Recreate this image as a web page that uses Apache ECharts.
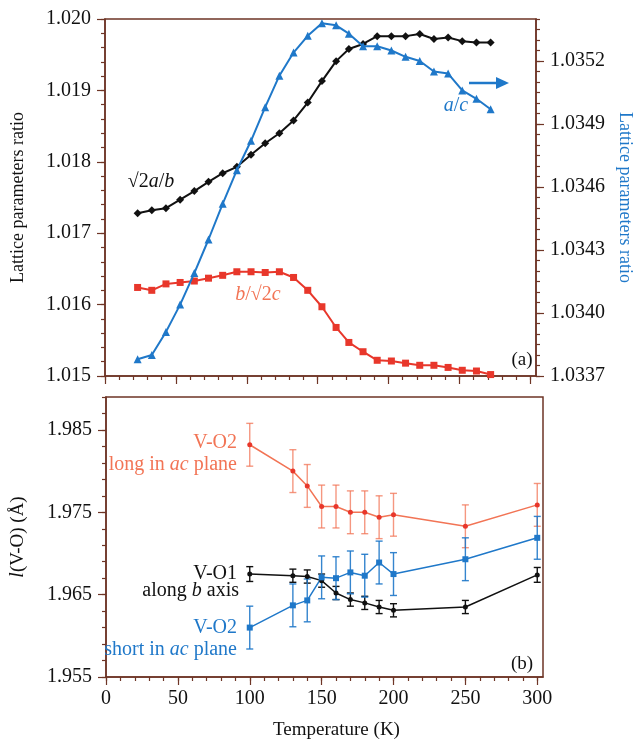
<!DOCTYPE html>
<html>
<head>
<meta charset="utf-8">
<script src="https://cdn.jsdelivr.net/npm/echarts@6/dist/echarts.min.js"></script>
<style>
  html, body { margin: 0; padding: 0; background: #fff; }
  #chart { width: 642px; height: 744px; }
</style>
</head>
<body>
<div id="chart"></div>
<script>
// panel (a): temperature of each lattice point
const tempA = [23, 33, 43, 53, 63, 73, 83, 93, 103, 113, 123, 133, 143, 153, 163, 172,
    182, 192, 202, 212, 222, 232, 242, 252, 262, 272];
// √2a/b, left axis
const ratioAB = [1.01728, 1.01732, 1.01735, 1.01747, 1.01759, 1.01772, 1.01784, 1.01793,
    1.01810, 1.01826, 1.01840, 1.01858, 1.01883, 1.01913, 1.01941, 1.01958,
    1.01965, 1.01976, 1.01976, 1.01976, 1.01979, 1.01972, 1.01974, 1.01969, 1.01967, 1.01967];
// b/√2c, left axis
const ratioBC = [1.01624, 1.01620, 1.01629, 1.01631, 1.01633, 1.01637, 1.01641, 1.01646,
    1.01646, 1.01645, 1.01646, 1.01638, 1.01620, 1.01597, 1.01568, 1.01547,
    1.01534, 1.01522, 1.01521, 1.01518, 1.01515, 1.01515, 1.01512, 1.01508, 1.01507, 1.01502];
// a/c, right axis
const ratioAC = [1.03378, 1.03380, 1.03391, 1.03404, 1.03419, 1.03435, 1.03452, 1.03468,
    1.03482, 1.03498, 1.03513, 1.03524, 1.03532, 1.03538, 1.03537, 1.03533,
    1.03527, 1.03527, 1.03525, 1.03522, 1.03520, 1.03515, 1.03514, 1.03506, 1.03502, 1.03497];

// panel (b): V-O bond lengths
const tempB = [100, 130, 140, 150, 160, 170, 180, 190, 200, 250, 300];
const vo2Long = [1.9832, 1.9800, 1.9782, 1.9757, 1.9757, 1.9750, 1.9750, 1.9744, 1.9747, 1.9733, 1.9759];
const vo2LongErr = [0.0026, 0.0026, 0.0026, 0.0026, 0.0026, 0.0026, 0.0026, 0.0026, 0.0026, 0.0026, 0.0026];
const vo1 = [1.9675, 1.9673, 1.9672, 1.9667, 1.9652, 1.9644, 1.9640, 1.9635, 1.9631, 1.9635, 1.9674];
const vo1Err = [0.0009, 0.0008, 0.0008, 0.0008, 0.0008, 0.0008, 0.0008, 0.0008, 0.0008, 0.0008, 0.0009];
const vo2Short = [1.9610, 1.9637, 1.9643, 1.9671, 1.9670, 1.9677, 1.9673, 1.9689, 1.9675, 1.9693, 1.9719];
const vo2ShortErr = [0.0026, 0.0026, 0.0026, 0.0026, 0.0026, 0.0026, 0.0026, 0.0026, 0.0026, 0.0026, 0.0026];

// tick labels
const xTicks = [0, 50, 100, 150, 200, 250, 300];
const leftTicks = [1.015, 1.016, 1.017, 1.018, 1.019, 1.020];
const rightTicks = [1.0337, 1.0340, 1.0343, 1.0346, 1.0349, 1.0352];
const bondTicks = [1.955, 1.965, 1.975, 1.985];

const AXIS = '#6e3526';
const SERIF = 'Liberation Serif';
const BLUE = '#1f78c9';
const RED = '#e8372b';
const SALMON = '#f27455';

// minor tick positions
const steps = (a, b, d, p) => {
    const out = [];
    for (let v = a; v <= b + d / 2; v += d) out.push(+v.toFixed(p));
    return out;
};
const xMinor = steps(0, 300, 10, 0);
const leftMinor = steps(1.015, 1.020, 0.0002, 4);
const rightMinor = steps(1.0337, 1.0354, 0.00005, 5);
const bondMinor = steps(1.955, 1.989, 0.002, 3);

const mainX = (grid, labels) => ({
    type: 'value', gridIndex: grid, min: 0, max: 304, position: 'bottom',
    axisLine: { onZero: false, lineStyle: { color: AXIS, width: 1.5 } },
    axisTick: { customValues: xTicks, length: 8, lineStyle: { color: AXIS, width: 1.2 } },
    axisLabel: { show: labels, customValues: xTicks, color: '#111', fontFamily: SERIF, fontSize: 20, margin: 12 },
    splitLine: { show: false }
});
const minorX = (grid) => ({
    type: 'value', gridIndex: grid, min: 0, max: 304, position: 'bottom',
    axisLine: { show: false, onZero: false },
    axisTick: { customValues: xMinor, length: 4, lineStyle: { color: AXIS, width: 1.2 } },
    axisLabel: { show: false }, splitLine: { show: false }
});
const mainY = (grid, pos, min, max, ticks, digits, margin) => ({
    type: 'value', gridIndex: grid, position: pos, min: min, max: max, scale: true,
    axisLine: { show: true, onZero: false, lineStyle: { color: AXIS, width: 1.5 } },
    axisTick: { customValues: ticks, length: 8, lineStyle: { color: AXIS, width: 1.2 } },
    axisLabel: {
        customValues: ticks, color: '#111', fontFamily: SERIF, fontSize: 20, margin: margin,
        formatter: v => v.toFixed(digits)
    },
    splitLine: { show: false }
});
const minorY = (grid, pos, min, max, ticks) => ({
    type: 'value', gridIndex: grid, position: pos, min: min, max: max, scale: true,
    axisLine: { show: false, onZero: false },
    axisTick: { customValues: ticks, length: 4, lineStyle: { color: AXIS, width: 1.2 } },
    axisLabel: { show: false }, splitLine: { show: false }
});

const zip = (xs, ys) => xs.map((x, i) => [x, ys[i]]);

const errorBars = (xs, ys, errs, color, opacity) => ({
    type: 'custom', xAxisIndex: 2, yAxisIndex: 4, silent: true, z: 1,
    data: xs.map((x, i) => [x, ys[i] - errs[i], ys[i] + errs[i]]),
    encode: { x: 0, y: [1, 2] },
    renderItem: (params, api) => {
        const lo = api.coord([api.value(0), api.value(1)]);
        const hi = api.coord([api.value(0), api.value(2)]);
        const w = 3.5;
        const style = { stroke: color, lineWidth: 1.4, opacity: opacity };
        return {
            type: 'group',
            children: [
                { type: 'line', shape: { x1: lo[0], y1: lo[1], x2: hi[0], y2: hi[1] }, style: style },
                { type: 'line', shape: { x1: lo[0] - w, y1: lo[1], x2: lo[0] + w, y2: lo[1] }, style: style },
                { type: 'line', shape: { x1: hi[0] - w, y1: hi[1], x2: hi[0] + w, y2: hi[1] }, style: style }
            ]
        };
    }
});

const txt = (x, y, text, color, align, size, rich) => ({
    type: 'text', x: x, y: y, z: 100,
    style: {
        text: text, fill: color, align: align || 'center', verticalAlign: 'middle',
        font: (size || 20) + 'px "' + SERIF + '"', rich: rich
    }
});
const italic = color => ({ i: { fontStyle: 'italic', fontFamily: SERIF, fontSize: 20, fill: color, color: color } });

const chart = echarts.init(document.getElementById('chart'));

chart.setOption({
    animation: false,
    backgroundColor: '#fff',
    grid: [
        { left: 105, top: 19, width: 439, height: 357, show: true, borderColor: AXIS, borderWidth: 1.5 },
        { left: 105, top: 397, width: 438, height: 280, show: true, borderColor: AXIS, borderWidth: 1.5 }
    ],
    xAxis: [
        mainX(0, false), minorX(0),
        Object.assign(mainX(1, true), {
            name: 'Temperature (K)', nameLocation: 'middle', nameGap: 44,
            nameTextStyle: { color: '#111', fontFamily: SERIF, fontSize: 19, padding: [0, 0, 0, 24] }
        }),
        minorX(1)
    ],
    yAxis: [
        Object.assign(mainY(0, 'left', 1.015, 1.020, leftTicks, 3, 14), {
            name: 'Lattice parameters ratio', nameLocation: 'middle', nameGap: 78,
            nameTextStyle: { color: '#111', fontFamily: SERIF, fontSize: 18 }
        }),
        minorY(0, 'left', 1.015, 1.020, leftMinor),
        Object.assign(mainY(0, 'right', 1.0337, 1.0354, rightTicks, 4, 14), {
            name: 'Lattice parameters ratio', nameLocation: 'middle', nameGap: 80, nameRotate: -90,
            nameTextStyle: { color: BLUE, fontFamily: SERIF, fontSize: 18 }
        }),
        minorY(0, 'right', 1.0337, 1.0354, rightMinor),
        Object.assign(mainY(1, 'left', 1.955, 1.989, bondTicks, 3, 14), {
            name: '{i|l}(V-O) (Å)', nameLocation: 'middle', nameGap: 78,
            nameTextStyle: { color: '#111', fontFamily: SERIF, fontSize: 19, rich: italic('#111') }
        }),
        minorY(1, 'left', 1.955, 1.989, bondMinor)
    ],
    series: [
        {
            name: '√2a/b', type: 'line', xAxisIndex: 0, yAxisIndex: 0, data: zip(tempA, ratioAB),
            symbol: 'diamond', symbolSize: 8, lineStyle: { color: '#111', width: 2 },
            itemStyle: { color: '#111' }, z: 3
        },
        {
            name: 'b/√2c', type: 'line', xAxisIndex: 0, yAxisIndex: 0, data: zip(tempA, ratioBC),
            symbol: 'rect', symbolSize: 7, lineStyle: { color: RED, width: 2 },
            itemStyle: { color: RED }, z: 3
        },
        {
            name: 'a/c', type: 'line', xAxisIndex: 0, yAxisIndex: 2, data: zip(tempA, ratioAC),
            symbol: 'triangle', symbolSize: 8, lineStyle: { color: BLUE, width: 2 },
            itemStyle: { color: BLUE }, z: 4
        },
        errorBars(tempB, vo2Long, vo2LongErr, SALMON, 0.75),
        errorBars(tempB, vo1, vo1Err, '#111', 1),
        errorBars(tempB, vo2Short, vo2ShortErr, BLUE, 0.9),
        {
            name: 'V-O2 long', type: 'line', xAxisIndex: 2, yAxisIndex: 4, data: zip(tempB, vo2Long),
            symbol: 'circle', symbolSize: 5, lineStyle: { color: SALMON, width: 1.5 },
            itemStyle: { color: RED }, z: 3
        },
        {
            name: 'V-O1', type: 'line', xAxisIndex: 2, yAxisIndex: 4, data: zip(tempB, vo1),
            symbol: 'circle', symbolSize: 5, lineStyle: { color: '#111', width: 1.5 },
            itemStyle: { color: '#111' }, z: 3
        },
        {
            name: 'V-O2 short', type: 'line', xAxisIndex: 2, yAxisIndex: 4, data: zip(tempB, vo2Short),
            symbol: 'rect', symbolSize: 6, lineStyle: { color: BLUE, width: 1.5 },
            itemStyle: { color: BLUE }, z: 3
        }
    ],
    graphic: [
        txt(151, 182, '√2{i|a}/{i|b}', '#111', 'center', 20, italic('#111')),
        txt(258, 295, '{i|b}/√2{i|c}', SALMON, 'center', 20, italic(SALMON)),
        txt(456, 106, '{i|a}/{i|c}', BLUE, 'center', 20, italic(BLUE)),
        {
            type: 'group', z: 100,
            children: [
                { type: 'line', shape: { x1: 469, y1: 83, x2: 499, y2: 83 }, style: { stroke: BLUE, lineWidth: 2.5 } },
                { type: 'polygon', shape: { points: [[496, 77], [509, 83], [496, 89]] }, style: { fill: BLUE } }
            ]
        },
        txt(522, 360, '(a)', '#111', 'center', 19),
        txt(522, 664, '(b)', '#111', 'center', 19),
        txt(237, 443, 'V-O2', SALMON, 'right', 20),
        txt(237, 465, 'long in {i|ac} plane', SALMON, 'right', 20, italic(SALMON)),
        txt(237, 574, 'V-O1', '#111', 'right', 20),
        txt(239, 591, 'along {i|b} axis', '#111', 'right', 20, italic('#111')),
        txt(237, 628, 'V-O2', BLUE, 'right', 20),
        txt(237, 650, 'short in {i|ac} plane', BLUE, 'right', 20, italic(BLUE))
    ]
});
</script>
</body>
</html>
